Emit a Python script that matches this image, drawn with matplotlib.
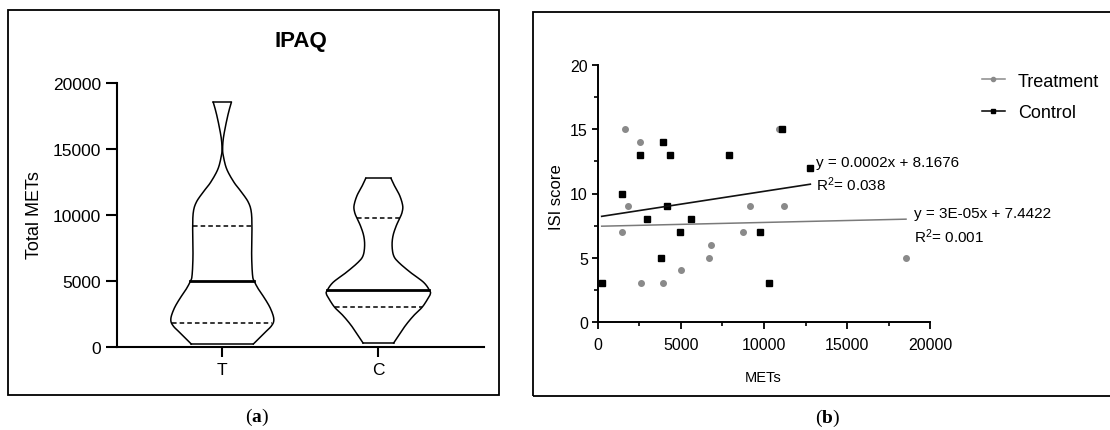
import numpy as np
import matplotlib.pyplot as plt
from matplotlib.lines import Line2D
from matplotlib.patches import Rectangle
from matplotlib.ticker import MultipleLocator

plt.rcParams['font.family'] = ['Liberation Sans', 'DejaVu Sans']
plt.rcParams['mathtext.fontset'] = 'custom'
plt.rcParams['mathtext.rm'] = 'Liberation Sans'
plt.rcParams['mathtext.it'] = 'Liberation Sans:italic'
plt.rcParams['mathtext.bf'] = 'Liberation Serif:bold'

# ---- panel (a): violin outlines ----
# level (Total METs) and half width (in category units)
groups = ['T', 'C']
t_levels = [205, 964, 1597, 2103, 2862, 3622, 4381, 4963, 5393, 6912, 8937,
            10203, 10962, 11721, 12480, 13493, 14505, 15011, 15771, 16778, 17796, 18555]
t_halfw = [0.199, 0.263, 0.316, 0.330, 0.310, 0.274, 0.231, 0.205, 0.194, 0.188, 0.190,
           0.186, 0.167, 0.124, 0.075, 0.028, 0.006, 0.002, 0.006, 0.021, 0.040, 0.058]
t_median = 4990
t_quartiles = [1774, 9140]

c_levels = [281, 838, 1597, 2356, 2989, 3622, 4001, 4254, 4888, 5647, 6406,
            6912, 7671, 8431, 9190, 9747, 10203, 10708, 11468, 12227, 12784]
c_halfw = [0.098, 0.130, 0.173, 0.226, 0.280, 0.316, 0.333, 0.329, 0.290, 0.205, 0.130,
           0.098, 0.088, 0.094, 0.115, 0.137, 0.152, 0.156, 0.137, 0.103, 0.081]
c_median = 4300
c_quartiles = [2990, 9750]

# ---- panel (b): ISI score vs METs ----
trt_mets = [1672, 2573, 1833, 1472, 252, 2614, 3917, 5037, 6701, 6821, 8726, 9185, 10908, 11190, 18541]
trt_isi = [15, 14, 9, 7, 3, 3, 3, 4, 5, 6, 7, 9, 15, 9, 5]
ctl_mets = [252, 1472, 2573, 3917, 4377, 2995, 4197, 3837, 4960, 5621, 7924, 9786, 10290, 11108, 12790]
ctl_isi = [3, 10, 13, 14, 13, 8, 9, 5, 7, 8, 13, 7, 3, 15, 12]
ctl_fit = (0.0002, 8.1676)
trt_fit = (3e-05, 7.4422)

GRAY = '#8a8a8a'


def smooth(x, y, n=10):
    # Catmull-Rom curve through the read outline points (drawing only)
    pts = np.column_stack([x, y]).astype(float)
    p = np.vstack([pts[0], pts, pts[-1]])
    t = np.linspace(0, 1, n, endpoint=False)[:, None]
    out = []
    for i in range(1, len(p) - 2):
        p0, p1, p2, p3 = p[i - 1], p[i], p[i + 1], p[i + 2]
        out.append(0.5 * (2 * p1 + (-p0 + p2) * t + (2 * p0 - 5 * p1 + 4 * p2 - p3) * t ** 2
                          + (-p0 + 3 * p1 - 3 * p2 + p3) * t ** 3))
    out.append(pts[-1][None])
    return np.vstack(out)


def draw_violin(ax, pos, levels, halfw, median, quartiles):
    curve = smooth(halfw, levels)
    hw = np.clip(curve[:, 0], 0, None)
    lv = curve[:, 1]
    ax.plot(pos + hw, lv, color='black', lw=1.1)
    ax.plot(pos - hw, lv, color='black', lw=1.1)
    for k in (0, -1):
        ax.plot([pos - halfw[k], pos + halfw[k]], [levels[k], levels[k]], color='black', lw=1.1)
    w = np.interp(median, levels, halfw)
    ax.plot([pos - w, pos + w], [median, median], color='black', lw=2.0)
    for q in quartiles:
        w = np.interp(q, levels, halfw)
        ax.plot([pos - w, pos + w], [q, q], color='black', lw=1.1, linestyle=(0, (3, 2)))


fig = plt.figure(figsize=(11.1, 4.31), dpi=100)

# panel frames
fig.patches.append(Rectangle((8 / 1110, 1 - 396 / 431), 491 / 1110, 385 / 431,
                             transform=fig.transFigure, fill=False, lw=1.3, ec='black'))
fig.patches.append(Rectangle((533 / 1110, 1 - 396.7 / 431), 600 / 1110, 383.4 / 431,
                             transform=fig.transFigure, fill=False, lw=1.3, ec='black'))

# ---------- (a) ----------
ax1 = fig.add_axes([117.3 / 1110, 1 - 347.7 / 431, 366.7 / 1110, 263.4 / 431])
draw_violin(ax1, 0, t_levels, t_halfw, t_median, t_quartiles)
draw_violin(ax1, 1, c_levels, c_halfw, c_median, c_quartiles)
ax1.set_xlim(-0.673, 1.677)
ax1.set_ylim(0, 20000)
ax1.set_xticks([0, 1])
ax1.set_xticklabels(groups)
ax1.set_yticks([0, 5000, 10000, 15000, 20000])
ax1.spines[['top', 'right']].set_visible(False)
for s in ('left', 'bottom'):
    ax1.spines[s].set_linewidth(1.5)
ax1.tick_params(axis='y', length=8, width=1.5, pad=3.5, labelsize=12.5)
ax1.tick_params(axis='x', length=7, width=1.5, pad=4, labelsize=12.5)
ax1.set_ylabel('Total METs', fontsize=13)
ax1.yaxis.set_label_coords(-0.202, 0.504)
ax1.text(0.5, 1.162, 'IPAQ', transform=ax1.transAxes, ha='center', va='center',
         fontsize=16, fontweight='bold')

# ---------- (b) ----------
ax2 = fig.add_axes([597.5 / 1110, 1 - 322.7 / 431, 332.8 / 1110, 256.4 / 431])
ax2.plot(trt_mets, trt_isi, linestyle='none', marker='o', ms=4, color=GRAY, mec=GRAY)
ax2.plot(ctl_mets, ctl_isi, linestyle='none', marker='s', ms=3.8, color='black')

xs = np.array([min(ctl_mets), max(ctl_mets)])
ax2.plot(xs, ctl_fit[0] * xs + ctl_fit[1], color='#111111', lw=1.2)
xs = np.array([min(trt_mets), max(trt_mets)])
ax2.plot(xs, trt_fit[0] * xs + trt_fit[1], color='#7a7a7a', lw=1.1)

ax2.text(13132, 12.43, 'y = 0.0002x + 8.1676', fontsize=11, va='center', ha='left', clip_on=False)
ax2.text(13132, 10.74, 'R$^2$= 0.038', fontsize=11, va='center', ha='left', clip_on=False)
ax2.text(19022, 8.48, 'y = 3E-05x + 7.4422', fontsize=11, va='center', ha='left', clip_on=False)
ax2.text(19022, 6.71, 'R$^2$= 0.001', fontsize=11, va='center', ha='left', clip_on=False)

ax2.set_xlim(0, 20000)
ax2.set_ylim(0, 20)
ax2.set_xticks([0, 5000, 10000, 15000, 20000])
ax2.set_yticks([0, 5, 10, 15, 20])
ax2.xaxis.set_minor_locator(MultipleLocator(2500))
ax2.yaxis.set_minor_locator(MultipleLocator(2.5))
ax2.spines[['top', 'right']].set_visible(False)
for s in ('left', 'bottom'):
    ax2.spines[s].set_linewidth(1.4)
ax2.tick_params(axis='y', which='major', length=4.5, width=1.3, pad=2.5, labelsize=11.5)
ax2.tick_params(axis='y', which='minor', length=3.2, width=1.2)
ax2.tick_params(axis='x', which='major', length=5, width=1.3, pad=6, labelsize=11.5)
ax2.tick_params(axis='x', which='minor', length=2.6, width=1.2)
ax2.set_ylabel('ISI score', fontsize=12)
ax2.yaxis.set_label_coords(-0.101, 0.49)
ax2.set_xlabel('METs', fontsize=10.5)
ax2.xaxis.set_label_coords(0.497, -0.188)

handles = [Line2D([], [], color=GRAY, marker='o', ms=3, lw=1.1),
           Line2D([], [], color='black', marker='s', ms=3, lw=1.1)]
fig.legend(handles, ['Treatment', 'Control'], loc='upper left',
           bbox_to_anchor=(981.7 / 1110, 0.829), frameon=False, fontsize=13,
           borderpad=0, borderaxespad=0, handlelength=1.28, handletextpad=0.72,
           labelspacing=0.8)

# panel letters
fig.text(257 / 1110, 1 - 417 / 431, r'($\mathbf{a}$)', ha='center', va='center',
         fontsize=14, family='Liberation Serif')
fig.text(828 / 1110, 1 - 418 / 431, r'($\mathbf{b}$)', ha='center', va='center',
         fontsize=14, family='Liberation Serif')

fig.savefig('out.png', dpi=100)
